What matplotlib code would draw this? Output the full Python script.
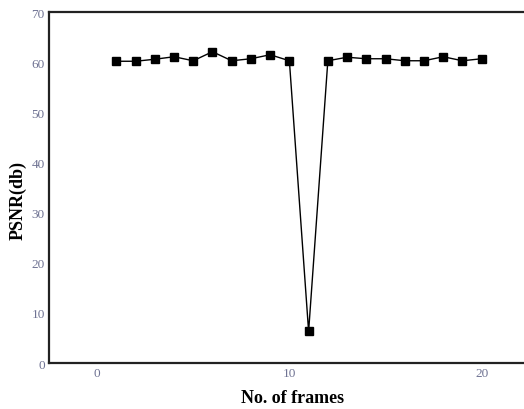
import matplotlib.pyplot as plt

frames = list(range(1, 21))
psnr = [60.2, 60.2, 60.6, 61.1, 60.3, 62.1, 60.3, 60.7, 61.5, 60.3,
        6.3, 60.3, 61.0, 60.7, 60.7, 60.3, 60.3, 61.1, 60.3, 60.7]
xticks = [0, 10, 20]
yticks = [0, 10, 20, 30, 40, 50, 60, 70]

plt.rcParams['font.family'] = ['Liberation Serif', 'DejaVu Serif']

fig = plt.figure(figsize=(5.24, 4.10), dpi=100)
ax = fig.add_axes([0.0935, 0.112, 0.9065, 0.856])

ax.plot(frames, psnr, color='black', linewidth=1.0, marker='s',
        markersize=5.5, markerfacecolor='black', markeredgecolor='black')

ax.set_xlim(-2.5, 22.2)
ax.set_ylim(0, 70)
ax.set_xticks(xticks)
ax.set_yticks(yticks)
ax.tick_params(length=0, labelsize=9.5, labelcolor='#6f7393', pad=3)

for side in ['left', 'top', 'bottom']:
    ax.spines[side].set_linewidth(1.6)
    ax.spines[side].set_color('#222222')
ax.spines['right'].set_visible(False)

ax.set_xlabel('No. of frames', fontsize=13, fontweight='bold')
ax.set_ylabel('PSNR(db)', fontsize=13, fontweight='bold')
ax.xaxis.set_label_coords(0.512, -0.075)
ax.yaxis.set_label_coords(-0.047, 0.467)

fig.savefig('out.png', dpi=100)
